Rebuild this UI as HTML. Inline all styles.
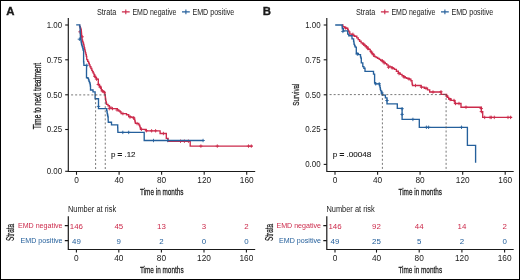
<!DOCTYPE html>
<html><head><meta charset="utf-8"><style>
html,body{margin:0;padding:0;background:#fff;}
svg{display:block;will-change:transform;}
text{font-family:"Liberation Sans",sans-serif;}
.c{stroke:#1a1a1a;stroke-width:0.26px;}
</style></head><body>
<svg width="520" height="280" viewBox="0 0 520 280" fill="#1a1a1a">
<rect x="0.5" y="0.5" width="519" height="279" fill="#fff" stroke="#000" stroke-width="1"/>
<text x="6.2" y="14.7" font-size="11.4" font-weight="bold" stroke="#1a1a1a" stroke-width="0.35">A</text>
<text x="262.8" y="14.8" font-size="11.4" font-weight="bold" stroke="#1a1a1a" stroke-width="0.35">B</text>
<g transform="translate(0,0)"><g transform="translate(0,0)">
<text x="96.9" y="15.0" font-size="8.2" textLength="19.4" lengthAdjust="spacingAndGlyphs">Strata</text>
<path d="M121.9,11.9h7.8M125.8,9.6v4.6" stroke="#cc2a4b" stroke-width="1.1"/>
<text x="132.4" y="15.0" font-size="8.2" textLength="44.0" lengthAdjust="spacingAndGlyphs">EMD negative</text>
<path d="M182,11.9h7.8M185.9,9.6v4.6" stroke="#25609c" stroke-width="1.1"/>
<text x="192.4" y="15.0" font-size="8.2" textLength="41.9" lengthAdjust="spacingAndGlyphs">EMD positive</text>
</g>
<path d="M68.3,18V171.45H255.2" stroke="#1a1a1a" stroke-width="1.15" fill="none"/>
<path d="M65.2,25H68.3" stroke="#1a1a1a" stroke-width="1.1"/>
<text x="62.1" y="27.9" font-size="8.3" text-anchor="end" textLength="15.4" lengthAdjust="spacingAndGlyphs">1.00</text>
<path d="M65.2,59.8H68.3" stroke="#1a1a1a" stroke-width="1.1"/>
<text x="62.1" y="62.8" font-size="8.3" text-anchor="end" textLength="15.4" lengthAdjust="spacingAndGlyphs">0.75</text>
<path d="M65.2,94.8H68.3" stroke="#1a1a1a" stroke-width="1.1"/>
<text x="62.1" y="97.8" font-size="8.3" text-anchor="end" textLength="15.4" lengthAdjust="spacingAndGlyphs">0.50</text>
<path d="M65.2,129.5H68.3" stroke="#1a1a1a" stroke-width="1.1"/>
<text x="62.1" y="132.4" font-size="8.3" text-anchor="end" textLength="15.4" lengthAdjust="spacingAndGlyphs">0.25</text>
<path d="M65.2,171.3H68.3" stroke="#1a1a1a" stroke-width="1.1"/>
<text x="62.1" y="174.2" font-size="8.3" text-anchor="end" textLength="15.4" lengthAdjust="spacingAndGlyphs">0.00</text>
<path d="M76.5,171.45V174.8" stroke="#1a1a1a" stroke-width="1.1"/>
<text x="76.5" y="182.6" font-size="8.3" text-anchor="middle">0</text>
<path d="M119.1,171.45V174.8" stroke="#1a1a1a" stroke-width="1.1"/>
<text x="119.1" y="182.6" font-size="8.3" text-anchor="middle">40</text>
<path d="M161.6,171.45V174.8" stroke="#1a1a1a" stroke-width="1.1"/>
<text x="161.6" y="182.6" font-size="8.3" text-anchor="middle">80</text>
<path d="M204.2,171.45V174.8" stroke="#1a1a1a" stroke-width="1.1"/>
<text x="204.2" y="182.6" font-size="8.3" text-anchor="middle">120</text>
<path d="M246.7,171.45V174.8" stroke="#1a1a1a" stroke-width="1.1"/>
<text x="246.7" y="182.6" font-size="8.3" text-anchor="middle">160</text>
<text class="c" x="140.0" y="194.9" font-size="9.9" textLength="43.4" lengthAdjust="spacingAndGlyphs">Time in months</text>
<text x="67.9" y="211.9" font-size="8.5" textLength="48.3" lengthAdjust="spacingAndGlyphs">Number at risk</text>
<path d="M68.3,216.2V249.5H255.2" stroke="#1a1a1a" stroke-width="1.2" fill="none"/>
<path d="M64.8,225.6H68.3M64.8,240.6H68.3" stroke="#1a1a1a" stroke-width="1.1"/>
<text x="62.5" y="227.8" font-size="8.1" text-anchor="end" textLength="44.6" lengthAdjust="spacingAndGlyphs" fill="#cc2a4b">EMD negative</text>
<text x="62.5" y="243.1" font-size="8.1" text-anchor="end" textLength="41.9" lengthAdjust="spacingAndGlyphs" fill="#25609c">EMD positive</text>
<path d="M76.4,249.5V252.6" stroke="#1a1a1a" stroke-width="1.1"/>
<text x="76.4" y="261.0" font-size="8.3" text-anchor="middle">0</text>
<path d="M118.8,249.5V252.6" stroke="#1a1a1a" stroke-width="1.1"/>
<text x="118.8" y="261.0" font-size="8.3" text-anchor="middle">40</text>
<path d="M161.4,249.5V252.6" stroke="#1a1a1a" stroke-width="1.1"/>
<text x="161.4" y="261.0" font-size="8.3" text-anchor="middle">80</text>
<path d="M204.0,249.5V252.6" stroke="#1a1a1a" stroke-width="1.1"/>
<text x="204.0" y="261.0" font-size="8.3" text-anchor="middle">120</text>
<path d="M246.4,249.5V252.6" stroke="#1a1a1a" stroke-width="1.1"/>
<text x="246.4" y="261.0" font-size="8.3" text-anchor="middle">160</text>
<text class="c" x="139.9" y="273.0" font-size="9.9" textLength="43.7" lengthAdjust="spacingAndGlyphs">Time in months</text>
<text class="c" transform="translate(13.6,240.9) rotate(-90)" font-size="10.2" textLength="17.0" lengthAdjust="spacingAndGlyphs">Strata</text></g>
<g transform="translate(258.5,0)"><g transform="translate(0.5,0)">
<text x="96.9" y="15.0" font-size="8.2" textLength="19.4" lengthAdjust="spacingAndGlyphs">Strata</text>
<path d="M121.9,11.9h7.8M125.8,9.6v4.6" stroke="#cc2a4b" stroke-width="1.1"/>
<text x="132.4" y="15.0" font-size="8.2" textLength="44.0" lengthAdjust="spacingAndGlyphs">EMD negative</text>
<path d="M182,11.9h7.8M185.9,9.6v4.6" stroke="#25609c" stroke-width="1.1"/>
<text x="192.4" y="15.0" font-size="8.2" textLength="41.9" lengthAdjust="spacingAndGlyphs">EMD positive</text>
</g>
<path d="M68.3,18V171.45H255.2" stroke="#1a1a1a" stroke-width="1.15" fill="none"/>
<path d="M65.2,25H68.3" stroke="#1a1a1a" stroke-width="1.1"/>
<text x="62.1" y="27.9" font-size="8.3" text-anchor="end" textLength="15.4" lengthAdjust="spacingAndGlyphs">1.00</text>
<path d="M65.2,59.8H68.3" stroke="#1a1a1a" stroke-width="1.1"/>
<text x="62.1" y="62.8" font-size="8.3" text-anchor="end" textLength="15.4" lengthAdjust="spacingAndGlyphs">0.75</text>
<path d="M65.2,94.8H68.3" stroke="#1a1a1a" stroke-width="1.1"/>
<text x="62.1" y="97.8" font-size="8.3" text-anchor="end" textLength="15.4" lengthAdjust="spacingAndGlyphs">0.50</text>
<path d="M65.2,129.5H68.3" stroke="#1a1a1a" stroke-width="1.1"/>
<text x="62.1" y="132.4" font-size="8.3" text-anchor="end" textLength="15.4" lengthAdjust="spacingAndGlyphs">0.25</text>
<path d="M65.2,164.4H68.3" stroke="#1a1a1a" stroke-width="1.1"/>
<text x="62.1" y="167.3" font-size="8.3" text-anchor="end" textLength="15.4" lengthAdjust="spacingAndGlyphs">0.00</text>
<path d="M76.5,171.45V174.8" stroke="#1a1a1a" stroke-width="1.1"/>
<text x="76.5" y="182.6" font-size="8.3" text-anchor="middle">0</text>
<path d="M119.1,171.45V174.8" stroke="#1a1a1a" stroke-width="1.1"/>
<text x="119.1" y="182.6" font-size="8.3" text-anchor="middle">40</text>
<path d="M161.6,171.45V174.8" stroke="#1a1a1a" stroke-width="1.1"/>
<text x="161.6" y="182.6" font-size="8.3" text-anchor="middle">80</text>
<path d="M204.2,171.45V174.8" stroke="#1a1a1a" stroke-width="1.1"/>
<text x="204.2" y="182.6" font-size="8.3" text-anchor="middle">120</text>
<path d="M246.7,171.45V174.8" stroke="#1a1a1a" stroke-width="1.1"/>
<text x="246.7" y="182.6" font-size="8.3" text-anchor="middle">160</text>
<text class="c" x="140.0" y="194.9" font-size="9.9" textLength="43.4" lengthAdjust="spacingAndGlyphs">Time in months</text>
<text x="67.9" y="211.9" font-size="8.5" textLength="48.3" lengthAdjust="spacingAndGlyphs">Number at risk</text>
<path d="M68.3,216.2V249.5H255.2" stroke="#1a1a1a" stroke-width="1.2" fill="none"/>
<path d="M64.8,225.6H68.3M64.8,240.6H68.3" stroke="#1a1a1a" stroke-width="1.1"/>
<text x="62.5" y="227.8" font-size="8.1" text-anchor="end" textLength="44.6" lengthAdjust="spacingAndGlyphs" fill="#cc2a4b">EMD negative</text>
<text x="62.5" y="243.1" font-size="8.1" text-anchor="end" textLength="41.9" lengthAdjust="spacingAndGlyphs" fill="#25609c">EMD positive</text>
<path d="M76.5,249.5V252.6" stroke="#1a1a1a" stroke-width="1.1"/>
<text x="76.5" y="261.0" font-size="8.3" text-anchor="middle">0</text>
<path d="M118.0,249.5V252.6" stroke="#1a1a1a" stroke-width="1.1"/>
<text x="118.0" y="261.0" font-size="8.3" text-anchor="middle">40</text>
<path d="M160.7,249.5V252.6" stroke="#1a1a1a" stroke-width="1.1"/>
<text x="160.7" y="261.0" font-size="8.3" text-anchor="middle">80</text>
<path d="M203.4,249.5V252.6" stroke="#1a1a1a" stroke-width="1.1"/>
<text x="203.4" y="261.0" font-size="8.3" text-anchor="middle">120</text>
<path d="M246.1,249.5V252.6" stroke="#1a1a1a" stroke-width="1.1"/>
<text x="246.1" y="261.0" font-size="8.3" text-anchor="middle">160</text>
<text class="c" x="139.9" y="273.0" font-size="9.9" textLength="43.7" lengthAdjust="spacingAndGlyphs">Time in months</text>
<text class="c" transform="translate(14.4,240.9) rotate(-90)" font-size="10.2" textLength="17.0" lengthAdjust="spacingAndGlyphs">Strata</text></g>
<text class="c" transform="translate(40.9,129.2) rotate(-90)" font-size="10" textLength="66.4" style="stroke-width:0.3px" lengthAdjust="spacingAndGlyphs">Time to next treatment</text>
<text class="c" transform="translate(298.7,105.7) rotate(-90)" font-size="9.6" textLength="22.1" lengthAdjust="spacingAndGlyphs">Survival</text>
<text x="110.9" y="157.3" font-size="8" textLength="24.6" lengthAdjust="spacingAndGlyphs" stroke="#1a1a1a" stroke-width="0.12">p <tspan stroke-width="0.4">=</tspan> .12</text>
<text x="332.7" y="157.3" font-size="8" textLength="38.6" lengthAdjust="spacingAndGlyphs" stroke="#1a1a1a" stroke-width="0.12">p <tspan stroke-width="0.4">=</tspan> .00048</text>
<polyline points="79.0,25.3 79.6,25.3 79.6,26.6 80.2,26.6 80.2,28.0 80.7,28.0 80.7,29.2 81.2,29.2 81.2,30.5 81.3,30.5 81.3,32.1 81.5,32.1 81.5,33.7 81.6,33.7 81.6,35.2 81.7,35.2 81.7,36.8 81.9,36.8 81.9,38.4 82.0,38.4 82.0,40.0 82.5,40.0 82.5,41.5 83.0,41.5 83.0,42.9 83.5,42.9 83.5,44.4 83.9,44.4 83.9,46.1 84.2,46.1 84.2,47.7 84.6,47.7 84.6,49.4 85.0,49.4 85.0,51.1 85.4,51.1 85.4,52.8 85.9,52.8 85.9,54.6 86.3,54.6 86.3,56.3 86.7,56.3 86.7,58.0 86.8,59.6 87.7,59.6 87.7,61.4 88.6,61.4 88.6,63.1 89.3,63.1 89.3,64.9 90.0,64.9 90.0,66.7 90.9,66.7 90.9,68.5 91.8,68.5 91.8,70.3 92.5,70.3 92.5,71.7 93.2,71.7 93.2,73.1 94.0,73.1 94.0,74.7 94.7,74.7 94.7,76.3 95.6,76.3 95.6,77.7 96.5,77.7 96.5,79.1 98.3,79.1 98.3,81.3 98.3,84.5 99.5,84.5 99.5,86.5 100.8,86.5 100.8,88.4 101.3,88.4 101.3,89.7 101.9,89.7 101.9,90.9 103.2,90.9 103.2,91.6 104.4,91.6 104.4,92.3 104.8,92.3 104.8,94.1 105.1,94.1 105.1,95.9 105.3,95.9 105.3,97.3 105.5,97.3 105.5,98.8 105.7,98.8 105.7,100.2 105.9,100.2 105.9,101.6 106.2,101.6 106.2,102.9 106.5,102.9 106.5,104.3 108.0,104.3 108.0,105.7 109.4,105.7 109.4,107.1 111.1,107.1 111.1,108.6 115.8,108.6 117.4,108.6 117.4,109.9 118.8,109.9 118.8,111.0 120.1,111.0 120.1,112.0 121.1,112.0 121.1,113.6 124.9,113.6 126.5,113.6 126.5,114.7 128.7,114.7 128.7,116.3 130.3,116.3 130.3,116.8 131.9,116.8 131.9,117.4 133.2,117.5 134.0,117.5 134.0,119.1 134.8,119.1 134.8,120.7 135.1,120.7 135.1,122.1 135.4,122.1 135.4,123.4 138.0,123.4 138.8,123.4 138.8,124.8 139.6,124.8 139.6,126.1 140.1,126.1 140.1,127.7 140.7,127.7 140.7,129.3 145.5,129.3 146.1,129.3 146.1,130.8 160.1,130.8 160.1,133.5 166.3,133.5 166.3,138.4 168.1,138.4 168.1,139.3 168.1,141.2 190.2,141.2 190.2,146.1 252.5,146.1" stroke="#cc2a4b" stroke-width="1.35" fill="none"/>
<path d="M78.3,31.8h3.4M80.0,30.1v3.4M80.5,36.8h3.4M82.2,35.1v3.4M93.0,76.3h3.4M94.7,74.6v3.4M94.8,79.1h3.4M96.5,77.4v3.4M96.6,84.5h3.4M98.3,82.8v3.4M98.6,87.3h3.4M100.3,85.6v3.4M100.6,91.0h3.4M102.3,89.3v3.4M102.5,92.3h3.4M104.2,90.6v3.4M110.8,108.6h3.4M112.5,106.9v3.4M107.6,108.6h3.4M109.3,106.9v3.4M115.4,110.0h3.4M117.1,108.3v3.4M121.2,113.6h3.4M122.9,111.9v3.4M128.3,117.1h3.4M130.0,115.4v3.4M131.9,117.9h3.4M133.6,116.2v3.4M135.4,123.6h3.4M137.1,121.9v3.4M139.7,129.3h3.4M141.4,127.6v3.4M144.7,130.7h3.4M146.4,129.0v3.4M149.9,130.8h3.4M151.6,129.1v3.4M153.9,130.8h3.4M155.6,129.1v3.4M161.7,133.5h3.4M163.4,131.8v3.4M178.8,141.2h3.4M180.5,139.5v3.4M182.7,141.2h3.4M184.4,139.5v3.4M186.7,141.2h3.4M188.4,139.5v3.4M199.2,146.1h3.4M200.9,144.4v3.4M215.6,146.1h3.4M217.3,144.4v3.4M246.8,146.1h3.4M248.5,144.4v3.4M249.6,146.1h3.4M251.3,144.4v3.4" stroke="#cc2a4b" stroke-width="0.9" fill="none"/>
<polyline points="76.2,24.9 79.4,24.9 79.8,24.9 79.8,26.8 80.1,26.8 80.1,28.6 80.1,28.6 80.1,30.2 80.2,30.2 80.2,31.7 80.2,31.7 80.2,33.2 80.3,33.2 80.3,34.8 80.4,34.8 80.4,36.4 80.4,36.4 80.4,37.9 80.7,37.9 80.7,39.3 80.9,39.3 80.9,40.8 81.2,40.8 81.2,42.2 81.4,42.2 81.4,43.7 81.7,43.7 81.7,45.1 82.2,45.1 82.2,46.9 82.8,46.9 82.8,48.7 83.2,48.7 83.2,50.4 83.6,50.4 83.6,52.0 83.6,61.7 83.8,61.7 83.8,63.5 83.9,63.5 83.9,65.3 86.6,65.3 86.5,72.0 86.5,77.7 87.9,77.7 87.9,78.4 88.5,78.4 88.5,79.8 89.0,79.8 89.0,81.3 89.5,81.3 89.5,82.9 90.1,82.9 90.1,84.5 90.3,84.5 90.3,86.0 90.5,86.0 90.5,87.4 90.5,90.0 93.0,90.0 93.0,91.9 95.1,91.9 95.1,93.4 95.1,98.7 98.5,98.7 98.5,108.6 106.1,108.6 106.7,108.6 106.7,110.4 107.0,110.4 107.0,112.0 107.2,112.0 107.2,113.6 107.5,113.6 107.5,115.0 107.8,115.0 107.8,116.5 108.1,116.5 108.1,117.9 108.3,122.2 111.5,122.2 111.5,124.9 117.6,124.9 117.7,124.9 117.7,126.4 117.7,126.4 117.7,127.9 117.8,127.9 117.8,129.4 117.8,129.4 117.8,130.9 117.9,130.9 117.9,132.4 144.2,132.4 144.2,140.5 203.1,140.5" stroke="#25609c" stroke-width="1.35" fill="none"/>
<path d="M77.7,39.2h3.4M79.4,37.5v3.4M85.1,65.3h3.4M86.8,63.6v3.4M96.8,106.4h3.4M98.5,104.7v3.4M121.1,132.4h3.4M122.8,130.7v3.4M127.0,132.4h3.4M128.7,130.7v3.4M151.8,140.5h3.4M153.5,138.8v3.4M166.0,140.5h3.4M167.7,138.8v3.4M201.4,140.5h3.4M203.1,138.8v3.4" stroke="#25609c" stroke-width="0.9" fill="none"/>
<polyline points="341.8,25.0 342.9,25.0 342.9,26.6 344.2,26.6 344.2,27.4 345.5,27.4 345.5,28.2 347.7,28.2 347.7,29.3 348.2,29.3 348.2,30.6 348.8,30.6 348.8,31.9 349.8,31.9 349.8,34.1 352.0,34.1 352.0,35.1 353.4,35.1 353.4,35.7 354.7,35.7 354.7,36.2 356.8,36.2 356.8,37.8 358.2,37.8 358.2,39.6 359.6,39.6 359.6,41.2 361.1,41.2 361.1,42.8 362.5,42.8 362.5,43.9 363.8,43.9 363.8,45.0 365.1,45.0 365.1,46.0 366.4,46.0 366.4,47.1 368.0,47.1 368.0,49.3 370.2,49.3 370.2,51.4 371.2,51.4 371.2,52.8 372.3,52.8 372.3,54.1 373.9,54.1 373.9,56.2 375.1,56.2 375.1,56.9 376.3,56.9 376.3,57.5 377.7,57.5 377.7,58.4 379.2,58.4 379.2,59.3 380.6,59.3 380.6,60.2 382.2,60.2 382.2,61.2 383.8,61.2 383.8,62.3 385.2,62.3 385.2,63.6 386.7,63.6 386.7,64.8 388.1,64.8 388.1,66.1 390.0,66.1 390.0,66.9 391.8,66.9 391.8,67.7 393.1,67.7 393.1,68.5 394.5,68.5 394.5,69.3 396.4,69.3 396.4,71.2 398.3,71.2 398.3,73.0 400.1,73.0 400.1,74.3 402.0,74.3 402.0,75.7 403.6,75.7 403.6,76.7 405.2,76.7 405.2,77.7 406.6,77.7 406.6,78.2 407.9,78.2 407.9,78.6 409.3,78.6 409.3,79.1 410.9,79.1 410.9,80.7 412.0,80.7 412.0,82.9 412.2,82.9 412.2,84.2 412.5,84.2 412.5,85.5 420.5,85.5 421.1,85.5 421.1,87.1 423.8,87.1 424.3,87.1 424.3,88.2 427.0,88.2 427.5,88.2 427.5,89.8 429.1,89.8 429.7,89.8 429.7,92.0 441.0,92.0 441.2,94.4 445.5,94.4 446.6,94.4 446.6,96.0 447.6,96.0 447.6,97.3 448.7,97.3 448.7,98.7 450.9,98.7 450.9,100.3 453.5,100.3 454.6,100.3 454.6,101.9 455.1,101.9 455.1,103.5 461.0,103.5 461.0,107.2 480.7,107.2 481.4,107.2 481.4,108.5 481.4,111.6 482.7,111.6 482.7,117.4 512.0,117.4" stroke="#cc2a4b" stroke-width="1.35" fill="none"/>
<path d="M344.0,28.0h3.4M345.7,26.3v3.4M351.2,34.3h3.4M352.9,32.6v3.4M361.9,44.1h3.4M363.6,42.4v3.4M364.6,46.8h3.4M366.3,45.1v3.4M366.3,48.6h3.4M368.0,46.9v3.4M369.9,52.1h3.4M371.6,50.4v3.4M371.7,54.8h3.4M373.4,53.1v3.4M380.6,61.0h3.4M382.3,59.3v3.4M382.4,62.9h3.4M384.1,61.2v3.4M386.9,67.3h3.4M388.6,65.6v3.4M390.4,67.9h3.4M392.1,66.2v3.4M397.3,73.6h3.4M399.0,71.9v3.4M402.3,77.0h3.4M404.0,75.3v3.4M407.3,79.0h3.4M409.0,77.3v3.4M413.8,85.5h3.4M415.5,83.8v3.4M419.8,87.1h3.4M421.5,85.4v3.4M424.3,88.2h3.4M426.0,86.5v3.4M431.3,92.0h3.4M433.0,90.3v3.4M439.3,91.8h3.4M441.0,90.1v3.4M444.9,96.0h3.4M446.6,94.3v3.4M448.3,99.5h3.4M450.0,97.8v3.4M452.3,100.5h3.4M454.0,98.8v3.4M453.8,103.5h3.4M455.5,101.8v3.4M457.3,103.5h3.4M459.0,101.8v3.4M464.3,107.2h3.4M466.0,105.5v3.4M479.5,108.5h3.4M481.2,106.8v3.4M479.7,111.6h3.4M481.4,109.9v3.4M483.0,117.4h3.4M484.7,115.7v3.4M488.4,117.4h3.4M490.1,115.7v3.4M489.6,117.4h3.4M491.3,115.7v3.4M492.6,117.4h3.4M494.3,115.7v3.4M506.3,117.4h3.4M508.0,115.7v3.4M508.9,117.4h3.4M510.6,115.7v3.4" stroke="#cc2a4b" stroke-width="0.9" fill="none"/>
<polyline points="335.2,25.0 341.8,25.0 342.1,25.0 342.1,26.9 342.3,26.9 342.3,28.7 343.4,28.7 343.4,30.9 347.7,30.9 347.7,34.1 348.8,34.1 348.8,35.7 352.0,35.7 352.0,38.9 353.6,38.9 353.6,41.2 353.9,41.2 353.9,42.8 354.1,42.8 354.1,44.4 354.6,44.4 354.6,45.8 355.2,45.8 355.2,47.1 356.3,47.1 356.3,53.5 358.4,53.5 358.4,54.6 360.5,54.6 360.5,56.8 360.9,56.8 360.9,58.1 361.3,58.1 361.3,59.4 361.3,62.8 362.8,62.8 362.8,66.6 363.9,66.6 363.9,68.2 365.0,68.2 365.0,71.4 373.5,71.4 373.5,74.1 374.6,74.1 374.6,75.1 374.6,82.7 375.5,82.7 375.5,83.8 379.0,83.8 379.5,83.8 379.5,85.7 380.0,85.7 380.0,87.6 380.3,87.6 380.3,89.2 380.6,89.2 380.6,90.9 381.6,90.9 381.6,92.5 381.9,92.5 381.9,93.8 382.2,93.8 382.2,95.1 385.4,95.1 385.4,97.8 387.0,97.8 387.0,100.0 387.0,103.9 397.3,103.9 397.3,108.3 402.1,108.3 402.1,119.4 419.3,119.4 419.3,127.3 467.4,127.3 467.4,145.4 475.6,145.4 475.6,162.8" stroke="#25609c" stroke-width="1.35" fill="none"/>
<path d="M341.2,31.4h3.4M342.9,29.7v3.4M355.6,54.1h3.4M357.3,52.4v3.4M374.0,83.8h3.4M375.7,82.1v3.4M377.5,83.8h3.4M379.2,82.1v3.4M380.3,93.0h3.4M382.0,91.3v3.4M385.3,100.5h3.4M387.0,98.8v3.4M400.4,108.7h3.4M402.1,107.0v3.4M400.4,114.4h3.4M402.1,112.7v3.4M411.2,119.4h3.4M412.9,117.7v3.4M424.7,127.3h3.4M426.4,125.6v3.4M426.9,127.3h3.4M428.6,125.6v3.4M459.8,127.3h3.4M461.5,125.6v3.4" stroke="#25609c" stroke-width="0.9" fill="none"/>
<path d="M71.1,94.9H105.3M95.6,94.1V171M105.25,94.1V171" stroke="#555555" stroke-width="0.8" stroke-dasharray="2,2.05" fill="none"/>
<path d="M329.6,94.6H446.4M382.4,94.0V171M446.1,94.0V171" stroke="#555555" stroke-width="0.8" stroke-dasharray="2,2.05" fill="none"/>
<text x="76.4" y="228.9" font-size="7.9" text-anchor="middle" fill="#cc2a4b">146</text>
<text x="76.4" y="244.1" font-size="7.9" text-anchor="middle" fill="#25609c">49</text>
<text x="118.8" y="228.9" font-size="7.9" text-anchor="middle" fill="#cc2a4b">45</text>
<text x="118.8" y="244.1" font-size="7.9" text-anchor="middle" fill="#25609c">9</text>
<text x="161.4" y="228.9" font-size="7.9" text-anchor="middle" fill="#cc2a4b">13</text>
<text x="161.4" y="244.1" font-size="7.9" text-anchor="middle" fill="#25609c">2</text>
<text x="204.0" y="228.9" font-size="7.9" text-anchor="middle" fill="#cc2a4b">3</text>
<text x="204.0" y="244.1" font-size="7.9" text-anchor="middle" fill="#25609c">0</text>
<text x="246.4" y="228.9" font-size="7.9" text-anchor="middle" fill="#cc2a4b">2</text>
<text x="246.4" y="244.1" font-size="7.9" text-anchor="middle" fill="#25609c">0</text>
<text x="335.0" y="228.9" font-size="7.9" text-anchor="middle" fill="#cc2a4b">146</text>
<text x="335.0" y="244.1" font-size="7.9" text-anchor="middle" fill="#25609c">49</text>
<text x="376.5" y="228.9" font-size="7.9" text-anchor="middle" fill="#cc2a4b">92</text>
<text x="376.5" y="244.1" font-size="7.9" text-anchor="middle" fill="#25609c">25</text>
<text x="419.2" y="228.9" font-size="7.9" text-anchor="middle" fill="#cc2a4b">44</text>
<text x="419.2" y="244.1" font-size="7.9" text-anchor="middle" fill="#25609c">5</text>
<text x="461.9" y="228.9" font-size="7.9" text-anchor="middle" fill="#cc2a4b">14</text>
<text x="461.9" y="244.1" font-size="7.9" text-anchor="middle" fill="#25609c">2</text>
<text x="504.6" y="228.9" font-size="7.9" text-anchor="middle" fill="#cc2a4b">2</text>
<text x="504.6" y="244.1" font-size="7.9" text-anchor="middle" fill="#25609c">0</text>
</svg>
</body></html>
